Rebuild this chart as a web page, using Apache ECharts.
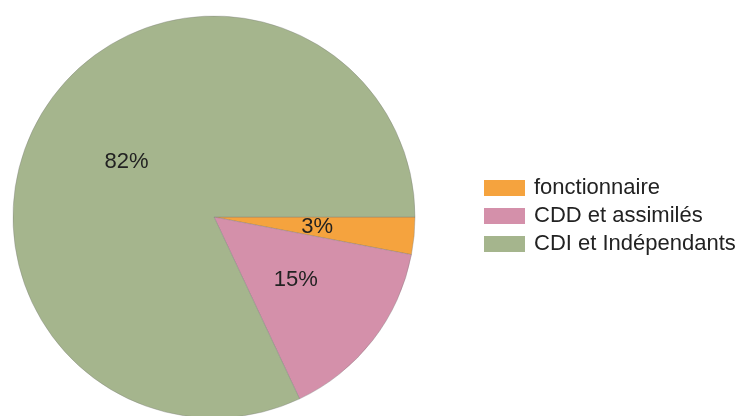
<!DOCTYPE html>
<html>
<head>
<meta charset="utf-8">
<script src="https://cdn.jsdelivr.net/npm/echarts@6/dist/echarts.min.js"></script>
<style>
html,body{margin:0;padding:0;background:#fff;}
#chart{width:744px;height:416px;}
</style>
</head>
<body>
<div id="chart"></div>
<script>
const categories = ['fonctionnaire', 'CDD et assimilés', 'CDI et Indépendants'];
const values = [3, 15, 82];
const colors = ['#F5A33E', '#D490AA', '#A5B58D'];

const chart = echarts.init(document.getElementById('chart'));
chart.setOption({
  animation: false,
  backgroundColor: '#fff',
  legend: {
    orient: 'vertical',
    left: 484,
    top: 177,
    padding: 0,
    itemWidth: 41,
    itemHeight: 16,
    itemGap: 6,
    icon: 'rect',
    itemStyle: { borderWidth: 0 },
    textStyle: { fontFamily: 'Liberation Sans, Arial, sans-serif', fontSize: 22, lineHeight: 22, color: '#222', padding: [0,0,0,4] },
    data: categories
  },
  series: [{
    type: 'pie',
    center: [214, 217],
    radius: 201,
    startAngle: 0,
    clockwise: true,
    avoidLabelOverlap: false,
    label: {
      position: 'inside',
      formatter: '{d}%',
      fontFamily: 'Liberation Sans, Arial, sans-serif',
      fontSize: 22,
      color: '#222'
    },
    labelLine: { show: false },
    itemStyle: { borderColor: 'rgba(120,120,120,0.35)', borderWidth: 1 },
    emphasis: { disabled: true },
    data: categories.map((c, i) => ({ name: c, value: values[i], itemStyle: { color: colors[i] } }))
  }]
});
</script>
</body>
</html>
